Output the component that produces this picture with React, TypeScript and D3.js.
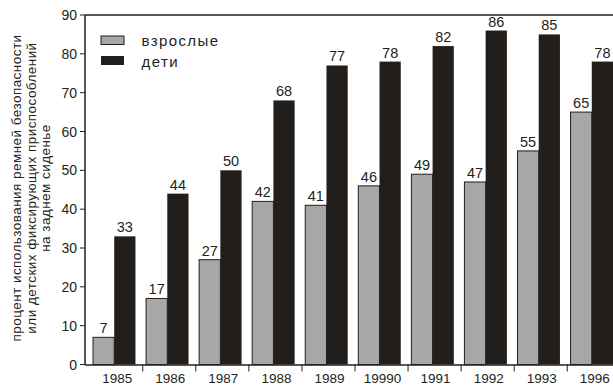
import React from "react";
import * as d3 from "d3";

const years = ["1985", "1986", "1987", "1988", "1989", "19990", "1991", "1992", "1993", "1996"];
const adults = [7, 17, 27, 42, 41, 46, 49, 47, 55, 65];
const children = [33, 44, 50, 68, 77, 78, 82, 86, 85, 78];
const yTicks = [0, 10, 20, 30, 40, 50, 60, 70, 80, 90];
const seriesNames = ["взрослые", "дети"];
const yTitle = [
  "процент использования ремней безопасности",
  "или детских фиксирующих приспособлений",
  "на заднем сиденье",
];

const W = 613;
const H = 385;
const left = 85;
const top = 15;
const bottom = 364.5;
const GREY = "#a7a7a7";
const DARK = "#221e1c";
const FONT = "Arial, 'Liberation Sans', sans-serif";

export default function App() {
  const y = d3.scaleLinear().domain([0, 90]).range([bottom, top]);
  const x = d3.scaleBand<string>().domain(years).range([93, 613]).paddingInner(0.2).paddingOuter(0);
  const bw = x.bandwidth();
  const inner = d3.scaleBand<string>().domain(["a", "c"]).range([0, bw]).padding(0);
  const sub = inner.bandwidth();
  const step = x.step();

  return (
    <svg
      width={W}
      height={H}
      style={{ position: "fixed", left: 0, top: 0, background: "#fff" }}
      fontFamily={FONT}
    >
      {/* y title */}
      {yTitle.map((t, i) => (
        <text
          key={i}
          transform={`translate(${17.5 + i * 14.5},${188}) rotate(-90)`}
          textAnchor="middle"
          dominantBaseline="middle"
          fontSize={13.5}
          letterSpacing={0.45}
          fill="#231f20"
        >
          {t}
        </text>
      ))}
      {/* y ticks */}
      {yTicks.map((t) => (
        <g key={t}>
          <line x1={80} x2={left} y1={y(t)} y2={y(t)} stroke="#231f20" strokeWidth={1} />
          <text
            x={77}
            y={y(t)}
            textAnchor="end"
            dominantBaseline="central"
            fontSize={14}
            fill="#231f20"
          >
            {t}
          </text>
        </g>
      ))}
      {/* bars */}
      {years.map((yr, i) => {
        const gx = x(yr)!;
        return (
          <g key={yr}>
            <rect
              x={gx + inner("a")!}
              y={y(adults[i])}
              width={sub}
              height={bottom - y(adults[i])}
              fill={GREY}
              stroke={DARK}
              strokeWidth={1}
            />
            <rect
              x={gx + inner("c")!}
              y={y(children[i])}
              width={sub}
              height={bottom - y(children[i])}
              fill={DARK}
            />
            <text
              x={gx + inner("a")! + sub / 2}
              y={y(adults[i]) - 4}
              textAnchor="middle"
              fontSize={14.5}
              fill="#231f20"
            >
              {adults[i]}
            </text>
            <text
              x={gx + inner("c")! + sub / 2}
              y={y(children[i]) - 4}
              textAnchor="middle"
              fontSize={14.5}
              fill="#231f20"
            >
              {children[i]}
            </text>
            <text x={gx + bw / 2 + 3} y={383} textAnchor="middle" fontSize={13.5} fill="#231f20">
              {yr}
            </text>
            {i < years.length - 1 && (
              <line
                x1={gx + bw + (step - bw) / 2 + 2}
                x2={gx + bw + (step - bw) / 2 + 2}
                y1={bottom}
                y2={371.5}
                stroke="#231f20"
                strokeWidth={1}
              />
            )}
          </g>
        );
      })}
      {/* frame */}
      <line x1={left} x2={W} y1={top} y2={top} stroke="#231f20" strokeWidth={1.5} />
      <line x1={left} x2={left} y1={top} y2={bottom} stroke="#231f20" strokeWidth={1.5} />
      <line x1={left} x2={W} y1={bottom + 0.5} y2={bottom + 0.5} stroke="#231f20" strokeWidth={1.5} />
      {/* legend */}
      <rect x={101} y={36} width={23} height={8.5} fill={GREY} stroke={DARK} strokeWidth={1} />
      <rect x={101} y={56} width={23} height={9} fill={DARK} />
      <text x={141.5} y={40.5} dominantBaseline="central" fontSize={15} letterSpacing={1.4} fill="#231f20">
        {seriesNames[0]}
      </text>
      <text x={141.5} y={61} dominantBaseline="central" fontSize={15} letterSpacing={1.4} fill="#231f20">
        {seriesNames[1]}
      </text>
    </svg>
  );
}
